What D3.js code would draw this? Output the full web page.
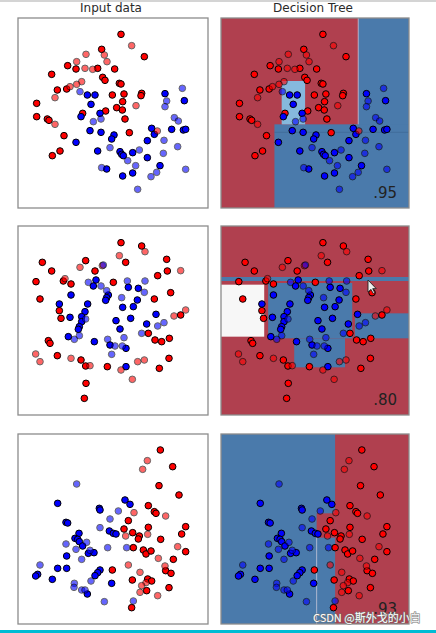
<!DOCTYPE html>
<html>
<head>
<meta charset="utf-8">
<script src="https://cdn.jsdelivr.net/npm/d3@7"></script>
<style>
  body { margin: 0; background: #fff; }
  svg { display: block; }
</style>
</head>
<body>
<div class="canvas"></div>
<script>
// column titles and test scores
const titles = ['Input data', 'Decision Tree'];
const scores = ['.95', '.80', '.93'];

// points: [x, y, class (0 red, 1 blue), train (1) or test (0)]
const moonsPoints = [
    [318,58,0,1],[350,92,0,0],[260,103,0,1],[268,120,0,0],[213,118,0,0],[388,125,0,1],
    [185,140,0,0],[276,140,0,0],[158,152,0,1],[183,162,0,1],[210,160,0,0],[233,163,0,0],
    [248,160,0,1],[299,162,0,1],[110,178,0,1],[263,187,0,1],[270,196,0,1],[313,205,0,1],
    [318,207,0,1],[200,200,0,0],[185,208,0,0],[165,215,0,0],[155,222,0,1],[127,225,0,1],
    [120,248,0,0],[292,240,0,1],[327,237,0,1],[380,235,0,1],[378,242,0,1],[65,265,0,1],
    [323,260,0,1],[363,272,0,0],[305,278,0,1],[322,285,0,1],[272,288,0,1],[203,295,0,1],
    [65,305,0,1],[97,312,0,1],[102,316,0,1],[120,328,0,0],[330,312,0,1],[147,362,0,1],
    [343,353,0,1],[427,348,0,0],[135,408,0,1],[112,422,0,1],
    [195,230,1,0],[217,240,1,1],[240,240,1,1],[228,268,1,1],[450,236,1,1],[502,220,1,0],
    [455,258,1,0],[508,257,1,1],[450,275,1,0],[255,295,1,1],[258,312,1,0],[198,305,1,1],
    [235,320,1,0],[478,308,1,0],[490,318,1,0],[225,347,1,1],[258,352,1,1],[297,360,1,1],
    [290,372,1,1],[410,340,1,1],[470,343,1,1],[505,345,1,1],[512,343,1,1],[418,358,1,1],
    [183,382,1,1],[397,377,1,1],[447,376,1,0],[248,408,1,1],[285,398,1,0],[315,410,1,1],
    [320,418,1,1],[325,422,1,1],[353,413,1,1],[373,405,1,0],[445,415,1,0],[488,395,1,0],
    [338,437,1,0],[397,428,1,1],[362,452,1,0],[260,458,1,0],[275,462,1,1],[435,452,1,1],
    [323,483,1,1],[353,474,1,1],[425,472,1,0],[408,485,1,0],[512,463,1,0],[368,523,1,0]
];

const circlesPoints = [
    [318,68,0,1],[380,78,0,1],[390,95,0,0],[313,107,0,0],[82,127,0,1],[212,122,0,1],
    [195,142,0,0],[262,137,0,0],[332,127,0,1],[455,118,0,1],[110,153,0,1],[240,153,0,1],
    [457,153,0,1],[497,152,0,0],[428,167,0,1],[63,185,0,1],[150,176,0,0],[145,183,0,1],
    [168,192,0,1],[295,187,0,1],[467,218,0,1],[75,237,0,1],[418,237,0,1],[133,272,0,1],
    [138,295,0,1],[512,270,0,0],[497,285,0,1],[477,288,0,0],[400,340,0,1],[420,360,0,1],
    [440,365,0,1],[463,355,0,1],[100,362,0,1],[105,370,0,1],[62,402,0,0],[75,425,0,0],
    [127,407,0,1],[168,415,0,0],[198,420,0,1],[212,438,0,1],[225,437,0,0],[277,440,0,1],
    [318,450,0,0],[368,425,0,0],[388,420,0,0],[433,445,0,1],[462,415,0,1],[352,478,0,0],
    [213,490,0,1],[208,535,0,1],
    [265,135,1,0],[220,187,1,0],[243,180,1,1],[235,198,1,1],[258,198,1,0],[275,212,1,0],
    [280,225,1,1],[275,233,1,1],[272,241,1,1],[337,183,1,0],[390,183,1,0],[340,202,1,1],
    [370,205,1,1],[388,217,1,0],[168,225,1,1],[320,233,1,0],[367,240,1,1],[133,252,1,1],
    [218,252,1,1],[323,262,1,1],[355,260,1,1],[210,275,1,1],[165,292,1,1],[200,290,1,1],
    [212,297,1,0],[200,305,1,1],[193,320,1,1],[190,328,1,1],[347,295,1,1],[303,302,1,1],
    [423,283,1,1],[447,308,1,0],[428,318,1,0],[395,312,1,1],[315,327,1,1],[380,340,1,0],
    [193,347,1,0],[160,350,1,1],[178,358,1,0],[238,365,1,1],[278,358,1,0],[285,375,1,1],
    [300,378,1,0],[322,378,1,0],[333,385,1,1],[327,353,1,0],[290,403,1,0],[333,440,1,1]
];

const linearPoints = [
    [185,177,1,0],[128,235,1,1],[253,250,1,1],[255,255,1,1],[330,225,1,1],[345,238,1,1],
    [310,258,1,0],[285,282,1,0],[153,292,1,1],[158,294,1,1],[255,308,1,0],[283,318,1,1],
    [295,325,1,1],[303,327,1,1],[192,325,1,1],[180,340,1,1],[188,343,1,1],[193,350,1,1],
    [153,357,1,0],[215,352,1,0],[203,363,1,1],[183,373,1,0],[225,376,1,0],[220,385,1,1],
    [237,383,1,1],[278,368,1,0],[155,393,1,1],[200,403,1,0],[335,368,1,0],[75,420,1,0],
    [128,430,1,1],[155,430,1,1],[68,448,1,1],[62,453,1,1],[255,435,1,1],[248,443,1,1],
    [240,452,1,1],[112,463,1,1],[228,468,1,0],[178,475,1,0],[177,487,1,0],[290,475,1,1],
    [200,495,1,0],[210,495,1,0],[217,507,1,1],[268,530,1,0],[355,528,1,0],
    [436,75,0,1],[397,107,0,0],[473,125,0,1],[383,133,0,0],[432,182,0,1],[492,210,0,1],
    [400,242,0,1],[418,260,0,1],[423,265,0,1],[357,263,0,0],[452,273,0,0],[340,287,0,1],
    [512,305,0,1],[400,307,0,1],[327,312,0,1],[500,327,0,1],[353,323,0,1],[332,333,0,0],
    [373,333,0,1],[370,342,0,1],[398,328,0,0],[437,343,0,1],[355,368,0,1],[385,375,0,1],
    [393,387,0,1],[408,378,0,1],[488,365,0,0],[512,380,0,1],[430,400,0,0],[475,403,0,1],
    [340,420,0,0],[450,423,0,0],[452,437,0,1],[468,445,0,1],[375,442,0,0],[292,435,0,1],
    [352,465,0,1],[398,462,0,1],[410,468,0,1],[393,473,0,0],[380,482,0,0],[462,488,0,1],
    [395,497,0,1],[375,502,0,0],[428,512,0,0],[350,548,0,1]
];

// tree leaves that differ from the background: box [x0, x1, y0, y1] and p = share of blue
const moonsLeaves = [
    { x0: 425, x1: 579, y0: 9, y1: 579, p: 1 },
    { x0: 171, x1: 579, y0: 328, y1: 579, p: 1 },
    { x0: 193, x1: 264, y0: 198, y1: 328, p: 0.75 }
];
const circlesLeaves = [
    { x0: 9, x1: 579, y0: 171, y1: 183, p: 1 },
    { x0: 9, x1: 140, y0: 194, y1: 350, p: 0.5 },
    { x0: 152, x1: 407, y0: 189, y1: 355, p: 1 },
    { x0: 231, x1: 385, y0: 355, y1: 442, p: 1 },
    { x0: 415, x1: 579, y0: 280, y1: 355, p: 1 }
];
const linearLeaves = [
    { x0: 355, x1: 579, y0: 27, y1: 597, p: 0 },
    { x0: 299, x1: 355, y0: 265, y1: 338, p: 0 }
];

// split edges that show up as faint seams in the filled regions: [x0, y0, x1, y1]
const moonsSeams = [[425, 9, 425, 328], [171, 352, 579, 352]];
const circlesSeams = [];
const linearSeams = [[299, 338, 299, 597]];

const datasets = [
    { points: moonsPoints, leaves: moonsLeaves, seams: moonsSeams, base: 0, xDomain: [9, 579], yDomain: [9, 579] },
    { points: circlesPoints, leaves: circlesLeaves, seams: circlesSeams, base: 0, xDomain: [9, 579], yDomain: [18, 585] },
    { points: linearPoints, leaves: linearLeaves, seams: linearSeams, base: 1, xDomain: [9, 579], yDomain: [27, 597] }
];

// layout
const width = 436;
const height = 633;
const cols = [{ x: 18, w: 190 }, { x: 221, w: 188 }];
const rows = [{ y: 18, h: 190 }, { y: 226, h: 189 }, { y: 434, h: 190 }];

const leafColor = d3.scaleLinear()
    .domain([0, 0.5, 0.75, 1])
    .range(['#b0404f', '#f7f7f7', '#86b9dd', '#4a7aab']);
const pointColor = ['#ff0000', '#0000ff'];

const svg = d3.select('.canvas')
    .append('svg')
    .attr('width', width)
    .attr('height', height);

svg.append('rect')
    .attr('width', width)
    .attr('height', height)
    .attr('fill', '#fff');

// screenshot edges
svg.append('rect')
    .attr('width', width)
    .attr('height', 2)
    .attr('fill', '#d4d4d4');
svg.append('rect')
    .attr('y', 630)
    .attr('width', width)
    .attr('height', 3)
    .attr('fill', '#00bcd4');

// column titles
svg.selectAll('text.title')
    .data(titles)
    .enter()
    .append('text')
    .attr('class', 'title')
    .attr('x', (d, j) => cols[j].x + cols[j].w / 2 - 2)
    .attr('y', 12)
    .attr('text-anchor', 'middle')
    .attr('font-family', 'DejaVu Sans, sans-serif')
    .attr('font-size', 12)
    .attr('fill', '#2a2a2a')
    .text(d => d);

datasets.forEach((ds, i) => {
    const row = rows[i];
    cols.forEach((col, j) => {
        const x = d3.scaleLinear().domain(ds.xDomain).range([0, col.w]);
        const y = d3.scaleLinear().domain(ds.yDomain).range([0, row.h]);

        const g = svg.append('g')
            .attr('transform', `translate(${col.x}, ${row.y})`);

        if (j === 1) {
            g.append('rect')
                .attr('width', col.w)
                .attr('height', row.h)
                .attr('fill', leafColor(ds.base));

            g.selectAll('rect.leaf')
                .data(ds.leaves)
                .enter()
                .append('rect')
                .attr('class', 'leaf')
                .attr('x', d => x(d.x0))
                .attr('y', d => y(d.y0))
                .attr('width', d => x(d.x1) - x(d.x0))
                .attr('height', d => y(d.y1) - y(d.y0))
                .attr('fill', d => leafColor(d.p));

            g.selectAll('line.seam')
                .data(ds.seams)
                .enter()
                .append('line')
                .attr('class', 'seam')
                .attr('x1', d => x(d[0]))
                .attr('y1', d => y(d[1]))
                .attr('x2', d => x(d[2]))
                .attr('y2', d => y(d[3]))
                .attr('stroke', d => d[1] === d[3] ? '#3d6894' : '#d8d0e0')
                .attr('stroke-opacity', 0.7)
                .attr('stroke-width', 1);
        }

        // training points first, test points on top
        const pts = ds.points.filter(d => d[3] === 1).concat(ds.points.filter(d => d[3] === 0));

        g.selectAll('circle')
            .data(pts)
            .enter()
            .append('circle')
            .attr('cx', d => x(d[0]))
            .attr('cy', d => y(d[1]))
            .attr('r', 3.3)
            .attr('fill', d => pointColor[d[2]])
            .attr('stroke', '#000')
            .attr('stroke-width', 1)
            .attr('opacity', d => d[3] ? 1 : 0.6);

        if (j === 1) {
            g.append('text')
                .attr('x', col.w - 12)
                .attr('y', row.h - 10)
                .attr('text-anchor', 'end')
                .attr('font-family', 'DejaVu Sans, sans-serif')
                .attr('font-size', 15)
                .attr('fill', '#222')
                .text(scores[i]);
        }

        g.append('rect')
            .attr('width', col.w)
            .attr('height', row.h)
            .attr('fill', 'none')
            .attr('stroke', '#8c8c8c')
            .attr('stroke-width', 1.3);
    });
});

// mouse pointer caught in the screenshot
svg.append('path')
    .attr('d', 'M0,0 L0,16 L4,12.5 L6.8,18 L9,17 L6.3,11.5 L11,11.5 Z')
    .attr('transform', 'translate(368, 280) scale(0.75)')
    .attr('fill', '#eee')
    .attr('stroke', '#222')
    .attr('stroke-width', 1.2);

// watermark
svg.append('text')
    .attr('x', 313)
    .attr('y', 622)
    .attr('font-family', 'Noto Sans CJK SC, sans-serif')
    .attr('font-size', 11)
    .attr('fill', '#fff')
    .attr('stroke', '#777')
    .attr('stroke-width', 1.2)
    .attr('paint-order', 'stroke')
    .text('CSDN @斯外戈的小白');
</script>
</body>
</html>
